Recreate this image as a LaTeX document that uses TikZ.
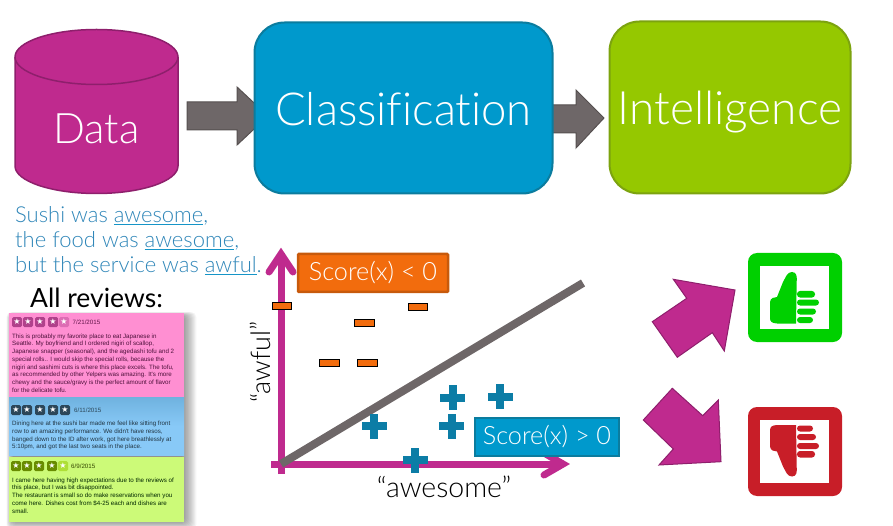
\documentclass[tikz,border=0pt]{standalone}
\usepackage{fontspec}
\setmainfont[Ligatures=NoCommon]{Lato Light}
\newfontfamily\cardfont{Liberation Sans}
\newfontfamily\blackfont{Lato}
\newfontfamily\symfont{DejaVu Sans}
\definecolor{mag}{HTML}{BF2A8E}
\definecolor{magd}{HTML}{8E1F6C}
\definecolor{teal}{HTML}{0099CC}
\definecolor{teald}{HTML}{0B7C9E}
\definecolor{lime}{HTML}{95C800}
\definecolor{limed}{HTML}{7CA30F}
\definecolor{grayarrow}{HTML}{6E6768}
\definecolor{grayd}{HTML}{565050}
\definecolor{orng}{HTML}{F26C0D}
\definecolor{orngd}{HTML}{C75A0C}
\definecolor{plusc}{HTML}{0C7DA6}
\definecolor{txtblue}{HTML}{2F86B8}
\definecolor{ulc}{HTML}{1595C8}
\definecolor{pinkc}{HTML}{FF8FD2}
\definecolor{bluec}{HTML}{88C9F7}
\definecolor{bluet}{HTML}{6FB2DF}
\definecolor{greenc}{HTML}{CCFA78}
\definecolor{upg}{HTML}{00D000}
\definecolor{downr}{HTML}{C81E28}
\newcommand\ulw[1]{\setbox0\hbox{#1}\rlap{\color{ulc}\rule[-2.8pt]{\wd0}{1.3pt}}\box0}
\newcommand\fs[1]{\fontsize{#1}{#1}\selectfont}
\tikzset{
  x=1pt,y=-1pt,
  bigbox/.style={draw,line width=2pt,rounded corners=30pt,text=white,inner sep=0pt},
  scorebox/.style={draw,line width=2.5pt,text=white,inner sep=0pt,font=\fs{25.2}},
  blockarrow/.style={fill=grayarrow,draw=grayd,line width=1pt},
  bigarrow/.style={fill=mag,draw=magd,line width=1pt,line join=miter},
  axisline/.style={draw=mag,line width=7pt},
  axishead/.style={draw=mag,line width=7pt,line cap=round,line join=miter},
  minusbox/.style={draw=black,fill=orng,line width=.8pt},
  plusbar/.style={fill=plusc},
  cardtext/.style={anchor=north west,inner sep=0pt,align=left,font=\cardfont\fontsize{6.2}{7.75}\selectfont},
  datetext/.style={anchor=west,inner sep=0pt,font=\cardfont\fs{6.2}},
  sentence/.style={anchor=base west,inner sep=0pt,text=txtblue,font=\fs{22}},
}
\newcommand\shadowrect[4]{% x1 y1 x2 y2
  \foreach \s in {0,...,13}{
    \fill[black,opacity=.04,rounded corners=5pt] (#1+4-\s*.5,#2+3-\s*.3) rectangle (#3-2+\s*1.1,#4-2+\s*.75);
  }}
\newcommand\stars[7]{% y, x1..x5, colour
  \foreach \xx in {#2,#3,#4,#5}{
    \fill[#7,rounded corners=1.5pt] (\xx-5,#1-5) rectangle (\xx+5,#1+5);
    \node[text=white,inner sep=0pt,font=\symfont\fs{8}] at (\xx,#1) {★};
  }
  \fill[\starlast,rounded corners=1.5pt] (#6-5,#1-5) rectangle (#6+5,#1+5);
  \node[text=white,inner sep=0pt,font=\symfont\fs{8}] at (#6,#1) {★};
}
\newcommand\thumbicon[4]{% colour, ytop, flip sign, y base
  \fill[#1,rounded corners=9pt] (748,#2) rectangle (842,#2+89);
  \fill[white] (760,#2+13) rectangle (829,#2+76);
  \begin{scope}[shift={(640,#4)},yscale=#3]
    \fill[#1] (130,62) .. controls (130.5,58) and (134,57) .. (137,57) -- (143,42)
      .. controls (146,37) and (147,32) .. (152,32) .. controls (157,32) and (157,37) .. (156.7,42) -- (156,83.5) -- (137,83.5)
      .. controls (132,83) and (130,82) .. (130,78) -- cycle;
    \foreach \ya/\yb/\xr in {51/57.5/175,59.5/65.5/179,68.5/74.5/176,77/83/173}{
      \fill[#1,rounded corners=3pt] (157,\ya) rectangle (\xr,\yb);
    }
  \end{scope}}
\begin{document}
\begin{tikzpicture}
\useasboundingbox (0,0) rectangle (893,526);
% arrows behind boxes
\draw[blockarrow] (187,102) -- (237,102) -- (237,87) -- (268,116) -- (237,145) -- (237,130) -- (187,130) -- cycle;
\draw[blockarrow] (545,105) -- (576,105) -- (576,90) -- (604,118) -- (576,148) -- (576,133) -- (545,133) -- cycle;
% data cylinder
\draw[fill=mag,draw=magd,line width=1.5pt] (15,57) arc[start angle=180,end angle=360,x radius=81.5,y radius=27.5] -- (178,166) arc[start angle=0,end angle=180,x radius=81.5,y radius=27.5] -- cycle;
\draw[draw=magd,line width=1.5pt] (15,57) arc[start angle=180,end angle=0,x radius=81.5,y radius=27.5];
\node[text=white,inner sep=0pt,font=\fs{42}] (data) at (96.5,129) {Data};
% boxes
\node[bigbox,fill=teal,draw=teald,minimum width=298pt,minimum height=171pt,font=\fs{45.5}] (classif) at (403.5,108) {\raisebox{-18pt}[0pt][0pt]{Classification}};
\node[bigbox,fill=lime,draw=limed,minimum width=241pt,minimum height=172pt,font=\fs{46}] (intel) at (730,107.5) {\raisebox{-17.5pt}[0pt][0pt]{Intelligence}};
% sentence
\node[sentence] (s1) at (15,222.5) {Sushi was \ulw{awesome},};
\node[sentence] (s2) at (15,247.5) {the food was \ulw{awesome},};
\node[sentence] (s3) at (15,272.5) {but the service was \ulw{awful}.};
\node[anchor=base west,inner sep=0pt,text=black,font=\blackfont\fs{26.5}] (allrev) at (30,308) {All reviews:};
% cards
\shadowrect{9}{313}{184}{522}
\fill[pinkc] (9,313) rectangle (184,397);
\shade[top color=bluet,bottom color=bluec,middle color=bluec] (9,397) rectangle (184,455);
\fill[greenc] (9,457) rectangle (184,522);
\def\starlast{magd!30!pinkc}
\stars{322}{17}{28}{40}{53}{64}{magd!70!pinkc}
\def\starlast{black!60!bluet}
\stars{410}{16}{27}{40}{53}{65}{black!60!bluet}
\def\starlast{lime!55!greenc}
\stars{466}{16}{27}{39}{52}{63}{lime!70!black}
\node[datetext,text=magd!70!black] (d1) at (72.5,322) {7/21/2015};
\node[datetext,text=black!60!bluet] (d2) at (74,410) {6/11/2015};
\node[datetext,text=black!65!lime] (d3) at (71,466) {6/9/2015};
\node[cardtext,text=magd!55!black] (c1) at (12,333.5) {This is probably my favorite place to eat Japanese in\\Seattle. My boyfriend and I ordered nigiri of scallop,\\Japanese snapper (seasonal), and the agedashi tofu and 2\\special rolls.. I would skip the special rolls, because the\\nigiri and sashimi cuts is where this place excels. The tofu,\\as recommended by other Yelpers was amazing. It's more\\chewy and the sauce/gravy is the perfect amount of flavor\\for the delicate tofu.};
\node[cardtext,text=black!70!bluet] (c2) at (12,421) {Dining here at the  sushi bar made me feel like sitting front\\row to an amazing performance. We didn't have resos,\\banged down to the ID after work, got here breathlessly at\\5:10pm, and got the last two seats in the place.};
\node[cardtext,text=black!85!green] (c3) at (12,477.5) {I came here having high expectations due to the reviews of\\this place, but I was bit disappointed.\\The restaurant is small so do make reservations when you\\come here. Dishes cost from \$4-25 each and dishes are\\small.};
% plot
\coordinate (o) at (281,464);
\coordinate (ytop) at (281,253);
\coordinate (ybot) at (281,474);
\coordinate (xleft) at (271,464);
\coordinate (xtip) at (563,464);
\coordinate (sepend) at (583,283);
\draw[axisline] (ybot) -- (ytop);
\draw[axishead] (269,272) -- (281,254) -- (293,272);
\draw[axisline] (xleft) -- (xtip);
\draw[axishead] (544,453) -- (563,464) -- (544,475);
% minus marks
\foreach \a/\b/\c/\d in {272/302.5/291.5/309,354.5/319.5/374.5/326,408.5/303.5/427.5/310,319.5/359.5/339/366.5,357.5/359.5/377.5/366.5}{
  \draw[minusbox] (\a,\b) rectangle (\c,\d);
}
\draw[line width=8pt,draw=grayarrow] (o) -- (sepend);
% plus marks
\foreach \px/\py in {452.5/397.5,500/396.5,374/426,451.5/426,415/460}{
  \fill[plusbar] (\px-12.5,\py-4) rectangle (\px+12.5,\py+4);
  \fill[plusbar] (\px-4,\py-12.5) rectangle (\px+4,\py+12.5);
}
\node[scorebox,fill=orng,draw=orngd,rounded corners=1pt,minimum width=150pt,minimum height=38pt] (neg) at (373,273) {Score(x) < 0};
\node[scorebox,fill=teal,draw=teald,minimum width=144pt,minimum height=38pt] (pos) at (547,437) {Score(x) > 0};
\node[inner sep=0pt,text=black,font=\fs{28.5}] (xlab) at (444,487) {“awesome”};
\node[inner sep=0pt,text=black,rotate=90,font=\fs{27}] (ylab) at (260,362) {“awful”};
% verdict arrows
\draw[bigarrow] (652.3,321.7) -- (686.7,298.3) -- (673.3,279.3) -- (735,290) -- (724.3,351) -- (712.3,332.7) -- (677.3,357.3) -- cycle;
\draw[bigarrow] (643.3,420) -- (672.3,388.3) -- (702.7,415.7) -- (718.3,400) -- (721,461.7) -- (659,465) -- (673.3,449) -- cycle;
\thumbicon{upg}{253}{1}{240}
\thumbicon{downr}{407}{-1}{508.5}
\end{tikzpicture}
\end{document}
